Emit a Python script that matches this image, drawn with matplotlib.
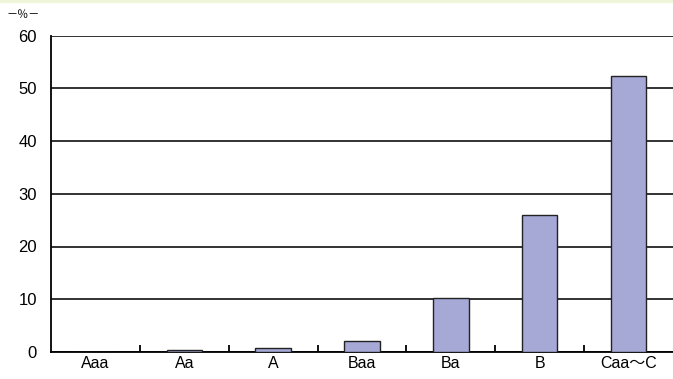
import numpy as np
import matplotlib.pyplot as plt

# 格付別の構成比（％）
ratings = ['Aaa', 'Aa', 'A', 'Baa', 'Ba', 'B', 'Caa～C']
shares = [0.0, 0.3, 0.8, 2.0, 10.3, 25.9, 52.3]
yticks = [0, 10, 20, 30, 40, 50, 60]

plt.rcParams['font.family'] = ['Liberation Sans', 'Noto Sans CJK JP', 'DejaVu Sans']

fig = plt.figure(figsize=(6.73, 3.79), dpi=100)
fig.patches.append(plt.Rectangle((0, 1 - 2/379), 1, 2/379, transform=fig.transFigure,
                                 color='#eef5d8', zorder=0))
ax = fig.add_axes([51/673, 27/379, 622/673, 316.5/379])

x = np.arange(len(ratings))
ax.bar(x, shares, width=0.4, color='#a6a8d6', edgecolor='#222222', linewidth=1.0, zorder=3)

ax.set_xlim(-0.5, len(ratings) - 0.5)
ax.set_ylim(0, 60)
ax.set_yticks(yticks)
ax.yaxis.grid(True, color='#222222', linewidth=1.3)
ax.set_axisbelow(True)

for s in ['top', 'right']:
    ax.spines[s].set_visible(False)
ax.spines['left'].set_linewidth(1.3)
ax.spines['bottom'].set_linewidth(1.3)

ax.set_xticks(x)
ax.set_xticklabels(ratings, fontsize=11.5)
ax.tick_params(axis='x', length=0, pad=3)
ax.set_xticks(x[:-1] + 0.5, minor=True)
ax.tick_params(axis='x', which='minor', direction='in', length=5, width=1.3)
ax.tick_params(axis='y', length=0, labelsize=12, pad=10)

fig.text(7/673, 1 - 15/379, '－％－', fontsize=8, va='center', ha='left')

fig.savefig('out.png', dpi=100)
